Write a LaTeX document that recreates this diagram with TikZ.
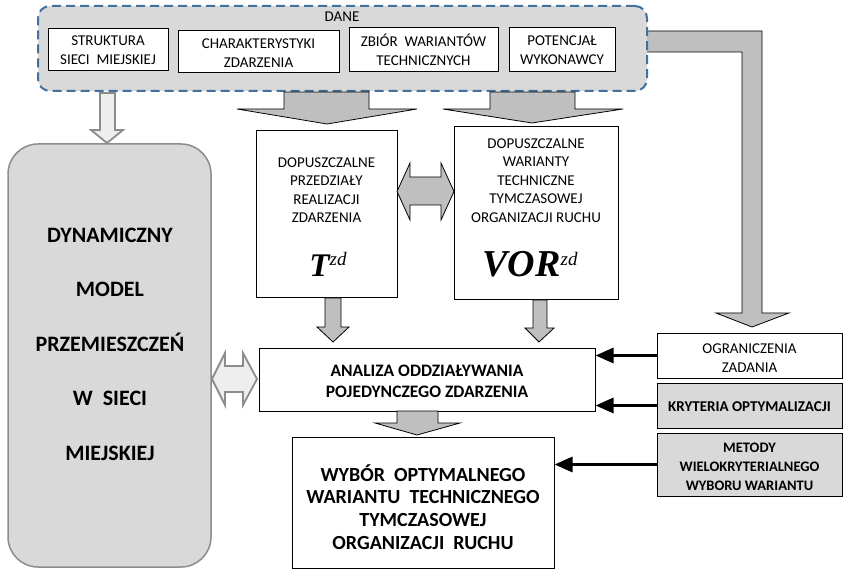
\documentclass[tikz,border=0pt]{standalone}
\usepackage{fontspec}
\setmainfont{Carlito}
\newfontfamily\tnr{Liberation Serif}
\usetikzlibrary{arrows.meta}
\definecolor{boxgray}{HTML}{D9D9D9}
\definecolor{arrgray}{HTML}{BFBFBF}
\definecolor{lightarr}{HTML}{EEEEEE}
\definecolor{edgegray}{HTML}{8C8C8C}
\definecolor{dashblue}{HTML}{41719C}
\tikzset{
  box/.style={draw=black, line width=1pt, fill=white, inner sep=0pt},
  graybox/.style={box, fill=boxgray},
  container/.style={draw=dashblue, fill=boxgray, line width=2pt, dash pattern=on 9pt off 5pt, rounded corners=12pt, inner sep=0pt},
  dynbox/.style={draw=edgegray, fill=boxgray, line width=1.5pt, rounded corners=30pt, inner sep=0pt},
  txt/.style={inner sep=0pt, align=center, font=\fontsize{15}{18.5}\selectfont},
  btxt/.style={inner sep=0pt, align=center, font=\bfseries\fontsize{15}{19}\selectfont},
  blockarr/.style={draw=black, fill=arrgray, line width=0.8pt},
  lightblock/.style={draw=edgegray, fill=lightarr, line width=1.8pt},
  thinarr/.style={draw=black, line width=3pt, -{Triangle[length=18pt,width=15pt]}},
}
\newcommand{\bigsym}[2]{{\tnr\bfseries\itshape\fontsize{#2}{#2}\selectfont #1}{\tnr\itshape\fontsize{19}{19}\selectfont\raisebox{11pt}{zd}}}
\begin{document}
\begin{tikzpicture}[x=1pt,y=-1pt]
\useasboundingbox (0,0) rectangle (846,569);
% L-shaped arrow to constraints (behind container)
\draw[blockarr] (640,31) -- (762,31) -- (762,313) -- (789,313) -- (752,327) -- (716,313) -- (742,313) -- (742,52) -- (640,52) -- cycle;
% DANE container
\node[container, minimum width=609pt, minimum height=85pt] (dane) at (342.5,48.5) {};
\node[txt] (danet) at (342,17) {DANE};
\node[box, minimum width=120pt, minimum height=42pt] (s1) at (108,50) {};
\node[txt] (s1t) at (108,50) {STRUKTURA\\SIECI\ \ MIEJSKIEJ};
\node[box, minimum width=161pt, minimum height=42pt] (s2) at (258.5,52) {};
\node[txt] (s2t) at (258.5,53) {CHARAKTERYSTYKI\\ZDARZENIA};
\node[box, minimum width=149pt, minimum height=44pt] (s3) at (423.5,50) {};
\node[txt] (s3t) at (423.5,50) {ZBIÓR\ \ WARIANTÓW\\TECHNICZNYCH};
\node[box, minimum width=106pt, minimum height=44pt] (s4) at (562,50) {};
\node[txt] (s4t) at (562,50) {POTENCJAŁ\\WYKONAWCY};
% left model box
\node[dynbox, minimum width=203pt, minimum height=423pt] (dyn) at (109.5,355.5) {};
\node[inner sep=0pt, align=center, font=\bfseries\fontsize{22}{54.5}\selectfont] (dynt) at (110,344) {DYNAMICZNY\\MODEL\\PRZEMIESZCZEŃ\\W\ \ SIECI\\MIEJSKIEJ};
% T and VOR boxes
\node[box, minimum width=141pt, minimum height=167pt] (tb) at (326.5,214.5) {};
\node[txt] (tbt) at (326.5,190) {DOPUSZCZALNE\\PRZEDZIAŁY\\REALIZACJI\\ZDARZENIA};
\node[inner sep=0pt] (tsym) at (328,264) {\bigsym{T}{33}};
\node[box, minimum width=164pt, minimum height=173pt] (vb) at (536,213.5) {};
\node[txt] (vbt) at (536,180.5) {DOPUSZCZALNE\\WARIANTY\\TECHNICZNE\\TYMCZASOWEJ\\ORGANIZACJI RUCHU};
\node[inner sep=0pt] (vsym) at (530,264) {\bigsym{VOR}{38}};
% analysis and choice boxes
\node[box, minimum width=336pt, minimum height=63pt] (ana) at (427,379.5) {};
\node[inner sep=0pt, align=center, font=\bfseries\fontsize{17.5}{21}\selectfont] (anat) at (427,381) {ANALIZA ODDZIAŁYWANIA\\POJEDYNCZEGO ZDARZENIA};
\node[box, minimum width=262pt, minimum height=131pt] (wyb) at (423,502.5) {};
\node[inner sep=0pt, align=center, font=\bfseries\fontsize{20}{22.7}\selectfont] (wybt) at (423,507) {WYBÓR\ \ OPTYMALNEGO\\WARIANTU\ \ TECHNICZNEGO\\TYMCZASOWEJ\\ORGANIZACJI\ \ RUCHU};
% right boxes
\node[box, minimum width=185pt, minimum height=45pt] (ogr) at (749.5,355.5) {};
\node[txt] (ogrt) at (749.5,358) {OGRANICZENIA\\ZADANIA};
\node[graybox, minimum width=185pt, minimum height=45pt] (kry) at (749.5,405.5) {};
\node[btxt] (kryt) at (749.5,407) {KRYTERIA OPTYMALIZACJI};
\node[graybox, minimum width=185pt, minimum height=63pt] (met) at (749.5,464.5) {};
\node[inner sep=0pt, align=center, font=\bfseries\fontsize{14.5}{19}\selectfont] (mett) at (749.5,467) {METODY\\WIELOKRYTERIALNEGO\\WYBORU WARIANTU};
% block arrows
\draw[blockarr] (284,92) -- (369,92) -- (369,109) -- (417,109) -- (327,124) -- (237,109) -- (284,109) -- cycle;
\draw[blockarr] (490,92) -- (575,92) -- (575,109) -- (623,109) -- (532,123) -- (443,109) -- (490,109) -- cycle;
\draw[blockarr] (325,298) -- (341,298) -- (341,327) -- (349,327) -- (333,342) -- (317,327) -- (325,327) -- cycle;
\draw[blockarr] (533,300) -- (547,300) -- (547,328) -- (554,328) -- (539,342) -- (525,328) -- (533,328) -- cycle;
\draw[blockarr] (397,411) -- (438,411) -- (438,423) -- (460,423) -- (417,435) -- (375,423) -- (397,423) -- cycle;
\draw[blockarr] (397,191.5) -- (410,163) -- (410,177) -- (441,177) -- (441,163) -- (454,191.5) -- (441,220) -- (441,205) -- (410,205) -- (410,220) -- cycle;
\draw[lightblock] (100,93) -- (115,93) -- (115,130) -- (123,130) -- (107,143) -- (91,130) -- (100,130) -- cycle;
\draw[lightblock] (212,379) -- (225,353) -- (225,366) -- (243,366) -- (243,353) -- (257,379) -- (243,405) -- (243,392) -- (225,392) -- (225,405) -- cycle;
% thin arrows
\draw[thinarr] (ogr.west) -- (ogr.west -| ana.east);
\draw[thinarr] (kry.west) -- (kry.west -| ana.east);
\draw[thinarr] (met.west) -- (met.west -| wyb.east);
\end{tikzpicture}
\end{document}
